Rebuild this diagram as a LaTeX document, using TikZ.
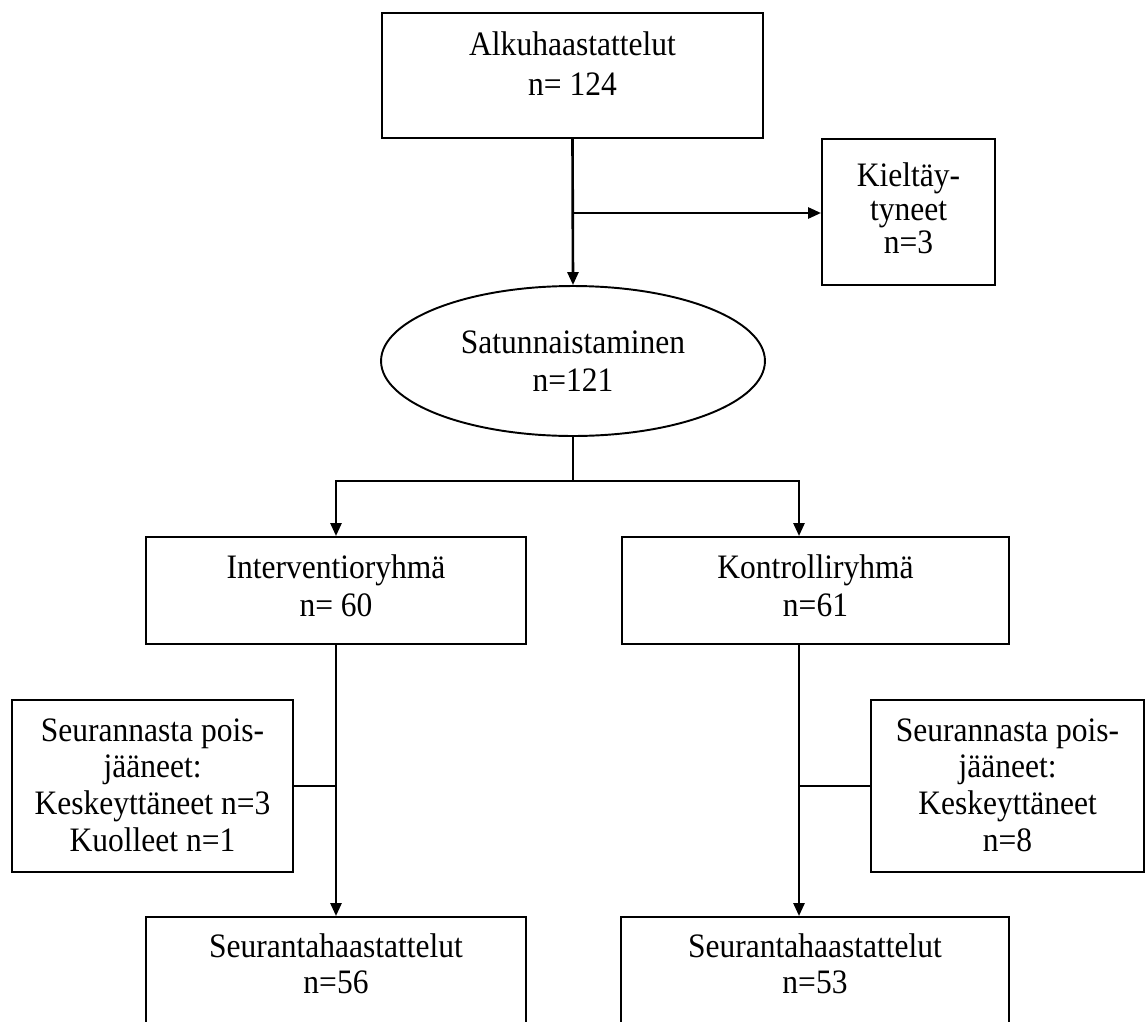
\documentclass[tikz,border=0pt]{standalone}
\usepackage{fontspec}
\setmainfont{Liberation Serif}[FakeStretch=0.92]
\usetikzlibrary{arrows.meta,calc,shapes.geometric}
\begin{document}
\begin{tikzpicture}[x=0.02cm,y=-0.02cm,
  boxstyle/.style={draw,line width=1.1pt,rectangle,inner sep=0pt,minimum height=#1},
  ellstyle/.style={draw,line width=1.1pt,ellipse,inner sep=0pt,align=center,
    font=\fontsize{19.5}{22pt}\selectfont},
  txt/.style={inner sep=0pt,align=center,anchor=north,font=\fontsize{19.5}{#1}\selectfont},
  txt/.default=21.5pt,
  conn/.style={line width=1.1pt},
  arr/.style={line width=1.5pt,-{Triangle[length=0.26cm,width=0.22cm]}}]
\useasboundingbox (0,0) rectangle (1145,1021);
\clip (0,0) rectangle (1145,1021);

% boxes
\node[boxstyle=2.5cm,minimum width=7.62cm] (top) at (572.5,75.5) {};
\node[boxstyle=2.92cm,minimum width=3.46cm] (kiel) at (908.5,212) {};
\node[ellstyle,minimum width=7.68cm,minimum height=3.0cm] (ell) at (573,361) {Satunnaistaminen\\n=121};
\node[boxstyle=2.14cm,minimum width=7.6cm] (iv) at (336,590.5) {};
\node[boxstyle=2.14cm,minimum width=7.74cm] (kr) at (815.5,590.5) {};
\node[boxstyle=3.44cm,minimum width=5.62cm] (lside) at (152.5,786) {};
\node[boxstyle=3.44cm,minimum width=5.46cm] (rside) at (1007.5,786) {};
\node[boxstyle=2.46cm,minimum width=7.6cm] (lbot) at (336,978.5) {};
\node[boxstyle=2.46cm,minimum width=7.76cm] (rbot) at (815,978.5) {};

% texts
\node[txt=22.7pt] (ttop) at ($(top.north)+(0,19)$) {Alkuhaastattelut\\n= 124};
\node[txt=19.3pt] (tkiel) at ($(kiel.north)+(0,24)$) {Kieltäy-\\tyneet\\n=3};
\node[txt=22pt] (tiv) at ($(iv.north)+(0,18)$) {Interventioryhmä\\n= 60};
\node[txt=22pt] (tkr) at ($(kr.north)+(0,18)$) {Kontrolliryhmä\\n=61};
\node[txt=21pt] (tlside) at ($(lside.north)+(0,19)$) {Seurannasta pois-\\jääneet:\\Keskeyttäneet n=3\\Kuolleet n=1};
\node[txt=21pt] (trside) at ($(rside.north)+(0,19)$) {Seurannasta pois-\\jääneet:\\Keskeyttäneet\\n=8};
\node[txt=20.4pt] (tlbot) at ($(lbot.north)+(0,17)$) {Seurantahaastattelut\\n=56};
\node[txt=20.4pt] (trbot) at ($(rbot.north)+(0,17)$) {Seurantahaastattelut\\n=53};

% connectors
\coordinate (branch) at (572.5,213);
\draw[arr] (top.south) -- (ell.north);
\draw[arr] (branch) -- (branch -| kiel.west);
\coordinate (split) at (573,481);
\coordinate (kra) at (799,481);
\draw[conn] (ell.south) -- (split);
\draw[arr] (split) -| (iv.north);
\draw[arr] (split) -- (kra) -- (kra |- kr.north);
\draw[arr] (iv.south) -- (lbot.north);
\draw[arr] (kr.south -| kra) -- (rbot.north -| kra);
\draw[conn] (lside.east) -- (lside.east -| iv.south);
\draw[conn] (rside.west) -- (rside.west -| kra);
\end{tikzpicture}
\end{document}
